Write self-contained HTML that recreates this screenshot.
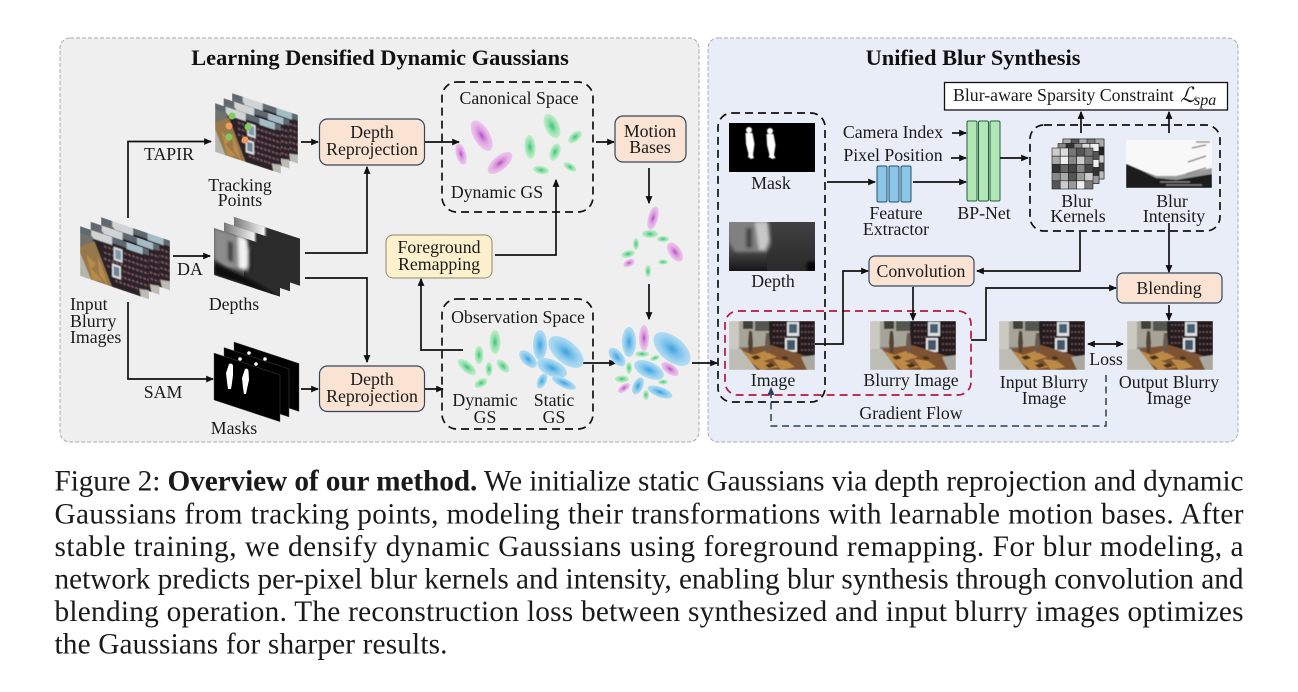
<!DOCTYPE html>
<html><head><meta charset="utf-8"><style>
html,body{margin:0;padding:0;background:#fff;width:1298px;height:692px;overflow:hidden}
svg{position:absolute;left:0;top:0}
text{font-family:"Liberation Serif",serif;font-size:17.8px;fill:#1a1a1a;text-anchor:middle}
.t{font-size:22.4px;font-weight:bold;fill:#111}
.c{font-size:29.3px;text-anchor:start;fill:#1a1a1a}
.l{fill:none;stroke:#111;stroke-width:1.7}
.d{fill:none;stroke:#111;stroke-width:1.7;stroke-dasharray:8 5}
.b{fill:#fbe3d3;stroke:#34465e;stroke-width:1.2}
</style></head><body>
<svg width="1298" height="692" viewBox="0 0 1298 692" xmlns="http://www.w3.org/2000/svg">
<defs>
<marker id="a" markerWidth="8" markerHeight="8" refX="6" refY="3" orient="auto-start-reverse" markerUnits="userSpaceOnUse" viewBox="0 0 7 6"><path d="M0 0L7 3L0 6z" fill="#111"/></marker>
<marker id="n" markerWidth="8" markerHeight="8" refX="6" refY="3" orient="auto" markerUnits="userSpaceOnUse" viewBox="0 0 7 6"><path d="M0 0L7 3L0 6z" fill="#2c3e5c"/></marker>
<radialGradient id="gp"><stop offset="0" stop-color="#b050c0"/><stop offset=".35" stop-color="#d890dc"/><stop offset=".7" stop-color="#e6b4e6"/><stop offset="1" stop-color="#ebc6eb"/></radialGradient>
<radialGradient id="gg"><stop offset="0" stop-color="#40c080"/><stop offset=".4" stop-color="#80dca0"/><stop offset=".75" stop-color="#aee8bc"/><stop offset="1" stop-color="#c0ecca"/></radialGradient>
<radialGradient id="gb"><stop offset="0" stop-color="#3da0e0"/><stop offset=".4" stop-color="#78c0ea"/><stop offset=".75" stop-color="#a0d4f0"/><stop offset="1" stop-color="#b0dcf2"/></radialGradient>
<linearGradient id="dg" x1="0" y1="0" x2="0" y2="1"><stop offset="0" stop-color="#8a8a8a"/><stop offset=".6" stop-color="#454545"/><stop offset="1" stop-color="#161616"/></linearGradient>
<linearGradient id="band" x1="0" y1="0" x2="1" y2="0"><stop offset="0" stop-color="#777"/><stop offset=".45" stop-color="#f2f2f2"/><stop offset=".5" stop-color="#2c2c2c"/><stop offset="1" stop-color="#2c2c2c"/></linearGradient>
<filter id="bl" x="-20%" y="-20%" width="140%" height="140%"><feGaussianBlur stdDeviation=".6"/></filter>
<filter id="bl2" x="-30%" y="-30%" width="160%" height="160%"><feGaussianBlur stdDeviation="1.500"/></filter>
<clipPath id="cp"><rect width="86" height="49"/></clipPath>
<clipPath id="cp2"><rect width="66" height="47"/></clipPath>
<symbol id="photo" viewBox="0 0 86 49" preserveAspectRatio="none"><g clip-path="url(#cp)"><g filter="url(#bl)">
<rect width="86" height="49" fill="#7f7e78"/>
<rect width="42" height="26" fill="#a6a498"/>
<rect x="0" width="10" height="30" fill="#cbc9c0"/>
<rect x="14" y="0" width="10" height="8" fill="#3f4039"/>
<rect x="26" y="0" width="16" height="10" fill="#54574f"/>
<rect x="40" y="0" width="46" height="37" fill="#231a1e"/>
<path d="M44 4h14M44 10h14M44 16h14M44 22h14M44 28h16M72 5h14M72 11h14M72 17h14M72 23h14M72 29h14" stroke="#6a4855" stroke-width="1.800" stroke-dasharray="2 1.500"/>
<rect x="58" y="1" width="12" height="14" fill="#dfe1e3"/><rect x="60" y="3" width="8" height="9" fill="#4a5f72"/>
<rect x="56" y="17" width="12" height="14" fill="#e2e2e4"/><rect x="58" y="19" width="8" height="10" fill="#43586a"/>
<path d="M10 28L42 24L86 38L86 49L14 49Z" fill="#7e5230"/>
<path d="M14 30l10 4 12-4 12 6-14 4 16 6-18 3-10-8zM44 38l14 2 8 6-14 3z" fill="#bd8a44"/>
<path d="M22 36l6-2 4 3-6 2zM36 44l6-2 4 3-6 2zM52 36l5-1 3 3-5 1z" fill="#4a3018"/>
<path d="M0 28L12 28L28 49L0 49Z" fill="#bdbdb5"/>
<path d="M20 10l3 0 1 12-1 10-3 0-1-10z" fill="#4f4236"/><path d="M37 12l3 0 1 10-1 10-3 0-1-10z" fill="#6a5b50"/>
<path d="M72 36L86 34L86 49L78 49Z" fill="#a9a9a1"/>
</g></g></symbol>
<symbol id="photo2" viewBox="0 0 86 49" preserveAspectRatio="none"><g clip-path="url(#cp)"><g filter="url(#bl)">
<rect width="86" height="49" fill="#2a2025"/>
<path d="M0 0h86v6H0z" fill="#5f6870"/><path d="M14 0h26v8H14z" fill="#d0d4d4"/><path d="M58 0h20v7H58z" fill="#a4bcc6"/>
<path d="M30 12h56M30 18h56M30 24h56M34 30h52M40 36h46M44 42h42" stroke="#7a5662" stroke-width="2" stroke-dasharray="3 2"/>
<rect x="42" y="9" width="11" height="13" fill="#d6dde2"/><rect x="44" y="11" width="7" height="9" fill="#7f98ac"/>
<rect x="40" y="26" width="11" height="13" fill="#dfe1e3"/><rect x="42" y="28" width="7" height="9" fill="#6d8498"/>
<path d="M0 6h16v14H0z" fill="#6f706c"/>
<path d="M0 20L18 10L40 49H0Z" fill="#97784c"/>
<path d="M8 26l12 6-6 6 14 8-12 3zM22 24l8 14 4 11-10-8z" fill="#b98b4a"/>
<path d="M0 26L14 49H0z" fill="#b5b5ac"/>
<path d="M74 42L86 40V49H76z" fill="#bcbcb4"/>
</g></g></symbol>
<symbol id="depth" viewBox="0 0 86 49" preserveAspectRatio="none"><g clip-path="url(#cp)">
<rect width="86" height="49" fill="url(#dg)"/>
<rect x="38" width="48" height="49" fill="#2e2e2e" opacity=".8"/>
<g filter="url(#bl2)"><path d="M0 0h40l2 22-4 8H6L0 20z" fill="#808080"/><path d="M26 0h12l2 18-4 10h-6z" fill="#c8c8c8"/><rect x="17" y="6" width="6" height="20" fill="#444"/><rect x="78" y="40" width="10" height="10" fill="#000"/></g>
</g></symbol>
<symbol id="mask" viewBox="0 0 86 49" preserveAspectRatio="none"><rect width="86" height="49" fill="#000"/>
<g fill="#fff" filter="url(#bl)"><circle cx="20" cy="7" r="3"/><path d="M16.500 10h7l2 11-1.500 11 1 3-3 1-3-2 .5-3-2.500-10z"/><circle cx="41" cy="8" r="3"/><path d="M37.500 11h7l2 11-1.500 10 1.500 3-3 1-4-2 1-2-2.500-10z"/></g>
</symbol>
<symbol id="dstack" viewBox="0 0 66 47" preserveAspectRatio="none"><g clip-path="url(#cp2)"><rect width="66" height="47" fill="#2c2c2c"/>
<rect width="30" height="47" fill="#555"/>
<g filter="url(#bl2)"><path d="M0 0h32l2 24-6 8-16 4-12-6z" fill="#8c8c8c"/><path d="M24 0h9l3 22-4 10h-7z" fill="#f2f2f2"/><rect x="14" y="8" width="5" height="20" fill="#3c3c3c"/><rect x="34" y="10" width="3" height="22" fill="#1c1c1c"/></g>
<path d="M0 34L30 38L66 47H0Z" fill="#0a0a0a" filter="url(#bl2)"/></g></symbol>
</defs>

<!-- panels -->
<rect x="60" y="38" width="639" height="404" rx="10" fill="#efefef" stroke="#aaa" stroke-width="1" stroke-dasharray="4 2"/>
<rect x="708" y="38" width="530" height="404" rx="10" fill="#e8edf8" stroke="#aab" stroke-width="1" stroke-dasharray="4 2"/>
<text class="t" x="380" y="65">Learning Densified Dynamic Gaussians</text>
<text class="t" x="973" y="65">Unified Blur Synthesis</text>

<!-- input stack -->
<g>
<use href="#photo2" width="69" height="50" transform="matrix(1 .34 0 1 101 217)"/>
<use href="#photo2" width="69" height="50" transform="matrix(1 .34 0 1 90.500 221.500)"/>
<use href="#photo2" width="69" height="50" transform="matrix(1 .34 0 1 80 226)"/>
</g>
<!-- tracking stack -->
<g>
<use href="#photo2" width="66" height="49" transform="matrix(1 .33 0 1 232 93)"/>
<use href="#photo2" width="66" height="49" transform="matrix(1 .33 0 1 223.500 98)"/>
<use href="#photo2" width="66" height="49" transform="matrix(1 .33 0 1 215 103)"/>
<g stroke="none"><circle cx="232" cy="116" r="3.500" fill="#7ecb5c"/><circle cx="229" cy="126" r="3.500" fill="#f09a5c"/><circle cx="229" cy="137" r="3.500" fill="#7ecb5c"/><circle cx="248" cy="127" r="3.500" fill="#7ecb5c"/><circle cx="245" cy="140" r="3.500" fill="#f09a5c"/></g>
</g>
<!-- depth stack -->
<g>
<g transform="matrix(1 .33 0 1 234 217)"><rect width="66" height="47" fill="#2c2c2c"/><rect width="66" height="12" fill="url(#band)"/></g>
<g transform="matrix(1 .33 0 1 224 222.500)"><rect width="66" height="47" fill="#2c2c2c"/><rect width="66" height="12" fill="url(#band)"/></g>
<use href="#dstack" width="66" height="47" transform="matrix(1 .33 0 1 214 228)"/>
</g>
<!-- mask stack -->
<g>
<g transform="matrix(1 .33 0 1 234 342)"><rect width="65" height="48" fill="#000" stroke="#555" stroke-width=".4"/></g>
<g transform="matrix(1 .33 0 1 224 347.500)"><rect width="65" height="48" fill="#000" stroke="#555" stroke-width=".4"/></g>
<g transform="matrix(1 .33 0 1 214 353)"><rect width="66" height="47" fill="#000" stroke="#555" stroke-width=".4"/></g>
<g fill="#fff"><circle cx="249" cy="353" r="1.800"/><circle cx="265" cy="359" r="1.800"/><circle cx="240" cy="359" r="1.800"/><circle cx="256" cy="364" r="1.800"/>
<path d="M229 364c2-1 4 0 4 2v9l-1 8-1 6h-3l-1-7-1-9z"/><path d="M245 369c2-1 3 0 3.500 2l.5 9-2 9-1 5h-2l-1-6-1-10z"/></g>
</g>

<!-- left connectors -->
<path class="l" marker-end="url(#a)" d="M128 218V141.500H211"/>
<path class="l" marker-end="url(#a)" d="M173 256H210"/>
<path class="l" marker-end="url(#a)" d="M128 302V379H213"/>
<path class="l" marker-end="url(#a)" d="M301 142H318"/>
<path class="l" marker-end="url(#a)" d="M305 253H367V167"/>
<path class="l" marker-end="url(#a)" d="M305 278H367V362"/>
<path class="l" marker-end="url(#a)" d="M301 389H318"/>
<path class="l" marker-end="url(#a)" d="M424 142H459"/>
<path class="l" marker-end="url(#a)" d="M424 389H443"/>
<path class="l" marker-end="url(#a)" d="M495 255H556V180"/>
<path class="l" marker-end="url(#a)" d="M463 350H421V279"/>
<path class="l" marker-end="url(#a)" d="M596 142H614"/>
<path class="l" marker-end="url(#a)" d="M649 168V203"/>
<path class="l" marker-end="url(#a)" d="M649 284V319"/>
<path class="l" marker-end="url(#a)" d="M581 363H616"/>
<path class="l" marker-end="url(#a)" d="M692 363H717"/>

<!-- dashed groups -->
<rect class="d" x="442" y="82" width="151" height="130" rx="15"/>
<rect class="d" x="442" y="299" width="151" height="130" rx="15"/>

<!-- boxes -->
<rect class="b" x="319.500" y="119" width="105" height="46" rx="8"/>
<rect class="b" x="319.500" y="366" width="105" height="45.500" rx="8"/>
<rect class="b" x="615" y="116" width="71" height="46" rx="8"/>
<rect x="386" y="235" width="106" height="43" rx="7" fill="#fdf1cd" stroke="#8a8a70" stroke-width="1"/>

<!-- gaussians: canonical -->
<g>
<ellipse cx="481.700" cy="135.700" rx="8" ry="17" transform="rotate(-30 481.700 135.700)" fill="url(#gp)"/>
<ellipse cx="461" cy="154" rx="5" ry="11" transform="rotate(-15 461 154)" fill="url(#gp)"/>
<ellipse cx="500" cy="163" rx="15" ry="7" transform="rotate(-40 500 163)" fill="url(#gp)"/>
<ellipse cx="552" cy="126" rx="7" ry="13" transform="rotate(-25 552 126)" fill="url(#gg)"/>
<ellipse cx="530" cy="147" rx="5.500" ry="12" transform="rotate(-5 530 147)" fill="url(#gg)"/>
<ellipse cx="575" cy="137" rx="8" ry="4.500" transform="rotate(-40 575 137)" fill="url(#gg)"/>
<ellipse cx="555" cy="152" rx="5" ry="9" transform="rotate(20 555 152)" fill="url(#gg)"/>
<ellipse cx="541" cy="170" rx="8" ry="4" transform="rotate(10 541 170)" fill="url(#gg)"/>
<ellipse cx="570" cy="167" rx="7" ry="3.500" transform="rotate(30 570 167)" fill="url(#gg)"/>
</g>
<!-- gaussians: middle -->
<g>
<ellipse cx="653" cy="218" rx="5" ry="12" transform="rotate(15 653 218)" fill="url(#gp)"/>
<ellipse cx="675" cy="252" rx="6" ry="11" transform="rotate(-35 675 252)" fill="url(#gp)"/>
<ellipse cx="629" cy="263" rx="6" ry="3.500" transform="rotate(-25 629 263)" fill="url(#gp)"/>
<ellipse cx="650" cy="234" rx="8" ry="4" fill="url(#gg)"/>
<ellipse cx="663" cy="239" rx="6" ry="3" fill="url(#gg)"/>
<ellipse cx="636" cy="244" rx="3" ry="6" fill="url(#gg)"/>
<ellipse cx="628" cy="254" rx="7" ry="3.500" transform="rotate(-15 628 254)" fill="url(#gg)"/>
<ellipse cx="663" cy="262" rx="5" ry="2.500" fill="url(#gg)"/>
<ellipse cx="648" cy="271" rx="3" ry="6" fill="url(#gg)"/>
</g>
<!-- gaussians: observation -->
<g>
<ellipse cx="495" cy="342" rx="5.500" ry="12" fill="url(#gg)"/>
<ellipse cx="479" cy="355" rx="4.500" ry="9" fill="url(#gg)"/>
<ellipse cx="467" cy="367" rx="11" ry="5" transform="rotate(40 467 367)" fill="url(#gg)"/>
<ellipse cx="503" cy="366" rx="8" ry="4.500" transform="rotate(45 503 366)" fill="url(#gg)"/>
<ellipse cx="489" cy="369" rx="3.500" ry="7" fill="url(#gg)"/>
<ellipse cx="481" cy="383" rx="7" ry="4" transform="rotate(-30 481 383)" fill="url(#gg)"/>
<ellipse cx="540" cy="345" rx="7" ry="15" fill="url(#gb)"/>
<ellipse cx="566" cy="352" rx="21" ry="11" transform="rotate(40 566 352)" fill="url(#gb)"/>
<ellipse cx="528" cy="359" rx="11" ry="6" transform="rotate(45 528 359)" fill="url(#gb)"/>
<ellipse cx="552" cy="368" rx="16" ry="8" transform="rotate(25 552 368)" fill="url(#gb)"/>
<ellipse cx="542" cy="381" rx="4.500" ry="8" transform="rotate(25 542 381)" fill="url(#gb)"/>
<ellipse cx="564" cy="383" rx="13" ry="4.500" transform="rotate(25 564 383)" fill="url(#gb)"/>
</g>
<!-- gaussians: combined -->
<g>
<ellipse cx="629" cy="342" rx="7" ry="15" fill="url(#gb)"/>
<ellipse cx="672" cy="349" rx="22" ry="12" transform="rotate(40 672 349)" fill="url(#gb)"/>
<ellipse cx="617" cy="357" rx="11" ry="6" transform="rotate(50 617 357)" fill="url(#gb)"/>
<ellipse cx="649" cy="370" rx="16" ry="8" transform="rotate(25 649 370)" fill="url(#gb)"/>
<ellipse cx="638" cy="386" rx="5" ry="9" transform="rotate(25 638 386)" fill="url(#gb)"/>
<ellipse cx="660" cy="392" rx="13" ry="5" transform="rotate(20 660 392)" fill="url(#gb)"/>
<ellipse cx="644" cy="338" rx="5" ry="13" fill="url(#gp)"/>
<ellipse cx="670" cy="369" rx="10" ry="5" transform="rotate(35 670 369)" fill="url(#gp)"/>
<ellipse cx="624" cy="388" rx="7" ry="3.500" transform="rotate(-35 624 388)" fill="url(#gp)"/>
<ellipse cx="642" cy="354" rx="7" ry="3" fill="url(#gg)"/>
<ellipse cx="655" cy="358" rx="5" ry="2.500" transform="rotate(-20 655 358)" fill="url(#gg)"/>
<ellipse cx="629" cy="368" rx="3" ry="6" fill="url(#gg)"/>
<ellipse cx="622" cy="379" rx="7" ry="3.500" fill="url(#gg)"/>
<ellipse cx="663" cy="382" rx="5" ry="2.500" fill="url(#gg)"/>
<ellipse cx="646" cy="395" rx="3" ry="5" fill="url(#gg)"/>
</g>

<!-- left labels -->
<text x="169" y="160">TAPIR</text>
<text x="190" y="275">DA</text>
<text x="163" y="398">SAM</text>
<text x="240" y="191">Tracking</text><text x="240" y="206">Points</text>
<text x="234" y="310">Depths</text>
<text x="234" y="434">Masks</text>
<text x="70" y="310" style="text-anchor:start">Input</text><text x="70" y="327" style="text-anchor:start">Blurry</text><text x="70" y="343" style="text-anchor:start">Images</text>
<text x="372" y="138">Depth</text><text x="372" y="155">Reprojection</text>
<text x="372" y="385">Depth</text><text x="372" y="402">Reprojection</text>
<text x="650" y="137">Motion</text><text x="650" y="153">Bases</text>
<text x="439" y="253">Foreground</text><text x="439" y="270">Remapping</text>
<text x="519" y="104">Canonical Space</text>
<text x="497" y="198">Dynamic GS</text>
<text x="518" y="323">Observation Space</text>
<text x="485" y="406">Dynamic</text><text x="485" y="423">GS</text>
<text x="554" y="406">Static</text><text x="554" y="423">GS</text>

<!-- right images -->
<use href="#mask" x="729" y="123" width="86" height="49"/>
<use href="#depth" x="729" y="222" width="86" height="49"/>
<use href="#photo" x="729" y="321" width="86" height="49"/>
<use href="#photo" x="870" y="321" width="86" height="49"/>
<use href="#photo" x="999" y="321" width="86" height="49"/>
<use href="#photo" x="1127" y="321" width="86" height="49"/>

<!-- blur intensity -->
<svg x="1126" y="140" width="86" height="48" viewBox="0 0 86 48">
<rect width="86" height="48" fill="#f8f8f8"/>
<g filter="url(#bl)"><path d="M0 24L14 30L30 36L50 38L86 34V48H0Z" fill="#1c1c1c"/><path d="M14 30L30 36L50 36L86 28V34L50 40L30 38Z" fill="#999"/>
<path d="M34 42h30M40 45h36M60 34l20-6M62 22l18-6M66 8l14-3M70 2h14" stroke="#888" stroke-width="1.300" fill="none"/></g>
</svg>

<!-- kernels -->
<g stroke="#222" stroke-width=".6">
<g><rect x="1063" y="139" width="41" height="40" fill="#999"/><path d="M1063 139h41v8h-41z" fill="#aaa"/><rect x="1071" y="139" width="8" height="8" fill="#555"/><rect x="1087" y="139" width="8" height="8" fill="#777"/><rect x="1096" y="147" width="8" height="8" fill="#222"/><rect x="1096" y="155" width="8" height="8" fill="#ccc"/><rect x="1096" y="163" width="8" height="8" fill="#444"/><rect x="1096" y="171" width="8" height="8" fill="#bbb"/></g>
<g><rect x="1058" y="143.500" width="41" height="40" fill="#888"/><rect x="1066" y="143.500" width="8" height="8" fill="#333"/><rect x="1082" y="143.500" width="8" height="8" fill="#ddd"/><rect x="1090" y="143.500" width="9" height="8" fill="#eee"/><rect x="1090" y="151.500" width="9" height="8" fill="#555"/><rect x="1090" y="159.500" width="9" height="8" fill="#eee"/><rect x="1090" y="167.500" width="9" height="8" fill="#333"/><rect x="1090" y="175.500" width="9" height="8" fill="#999"/></g>
<g>
<rect x="1052" y="148" width="8.200" height="8.200" fill="#ccc"/><rect x="1060.200" y="148" width="8.200" height="8.200" fill="#ddd"/><rect x="1068.400" y="148" width="8.200" height="8.200" fill="#777"/><rect x="1076.600" y="148" width="8.200" height="8.200" fill="#555"/><rect x="1084.800" y="148" width="8.200" height="8.200" fill="#777"/>
<rect x="1052" y="156.200" width="8.200" height="8.200" fill="#aaa"/><rect x="1060.200" y="156.200" width="8.200" height="8.200" fill="#eee"/><rect x="1068.400" y="156.200" width="8.200" height="8.200" fill="#888"/><rect x="1076.600" y="156.200" width="8.200" height="8.200" fill="#ccc"/><rect x="1084.800" y="156.200" width="8.200" height="8.200" fill="#777"/>
<rect x="1052" y="164.400" width="8.200" height="8.200" fill="#333"/><rect x="1060.200" y="164.400" width="8.200" height="8.200" fill="#666"/><rect x="1068.400" y="164.400" width="8.200" height="8.200" fill="#444"/><rect x="1076.600" y="164.400" width="8.200" height="8.200" fill="#888"/><rect x="1084.800" y="164.400" width="8.200" height="8.200" fill="#444"/>
<rect x="1052" y="172.600" width="8.200" height="8.200" fill="#888"/><rect x="1060.200" y="172.600" width="8.200" height="8.200" fill="#aaa"/><rect x="1068.400" y="172.600" width="8.200" height="8.200" fill="#555"/><rect x="1076.600" y="172.600" width="8.200" height="8.200" fill="#999"/><rect x="1084.800" y="172.600" width="8.200" height="8.200" fill="#ccc"/>
<rect x="1052" y="180.800" width="8.200" height="8.200" fill="#555"/><rect x="1060.200" y="180.800" width="8.200" height="8.200" fill="#ccc"/><rect x="1068.400" y="180.800" width="8.200" height="8.200" fill="#999"/><rect x="1076.600" y="180.800" width="8.200" height="8.200" fill="#eee"/><rect x="1084.800" y="180.800" width="8.200" height="8.200" fill="#777"/>
</g>
</g>

<!-- right dashed groups -->
<rect class="d" x="718" y="113" width="107" height="289" rx="14"/>
<rect x="725" y="311" width="246" height="84" rx="13" fill="none" stroke="#b5173f" stroke-width="1.700" stroke-dasharray="8 5"/>
<rect class="d" x="1030" y="125" width="190" height="106" rx="14"/>

<!-- feature & bp-net -->
<g fill="#8cc6e6" stroke="#24506e" stroke-width="1"><rect x="877" y="166" width="10" height="36" rx="1.500"/><rect x="889" y="166" width="10" height="36" rx="1.500"/><rect x="901" y="166" width="10" height="36" rx="1.500"/></g>
<g fill="#b2e6b6" stroke="#24603a" stroke-width="1"><rect x="967" y="121" width="10" height="80" rx="1.500"/><rect x="978.500" y="121" width="10" height="80" rx="1.500"/><rect x="990" y="121" width="10" height="80" rx="1.500"/></g>

<!-- right boxes -->
<rect x="944.500" y="82.500" width="283" height="27.500" fill="#fff" stroke="#111" stroke-width="1.300"/>
<rect class="b" x="869" y="256" width="105" height="30" rx="6"/>
<rect class="b" x="1117" y="273" width="105" height="30" rx="6"/>

<!-- right connectors -->
<path class="l" marker-end="url(#a)" d="M827 182H875"/>
<path class="l" marker-end="url(#a)" d="M913 182H966"/>
<path class="l" marker-end="url(#a)" d="M952 133H966"/>
<path class="l" marker-end="url(#a)" d="M951 158H966"/>
<path class="l" marker-end="url(#a)" d="M1000 158H1028"/>
<path class="l" marker-end="url(#a)" d="M1081 133V112"/>
<path class="l" marker-end="url(#a)" d="M1169 133V112"/>
<path class="l" marker-end="url(#a)" d="M815 344H843V271H868"/>
<path class="l" marker-end="url(#a)" d="M913 287V320"/>
<path class="l" marker-end="url(#a)" d="M1080 232V271H977"/>
<path class="l" marker-end="url(#a)" d="M1169 223V272"/>
<path class="l" marker-end="url(#a)" d="M1169 305V320"/>
<path class="l" marker-end="url(#a)" d="M971 340H986V288H1116"/>
<path class="l" marker-start="url(#a)" marker-end="url(#a)" d="M1088 344H1123"/>
<path fill="none" stroke="#2c3e5c" stroke-width="1.500" stroke-dasharray="7 4.500" marker-end="url(#n)" d="M1106 375V426H771V388"/>

<!-- right labels -->
<text x="953" y="101" style="text-anchor:start">Blur-aware Sparsity Constraint</text>
<text x="1180" y="102" style="font-style:italic;font-size:21px;text-anchor:start">ℒ</text>
<text x="1194" y="105" style="font-style:italic;font-size:16px;text-anchor:start">spa</text>
<text x="771" y="189">Mask</text>
<text x="773" y="287">Depth</text>
<text x="773" y="386">Image</text>
<text x="911" y="386">Blurry Image</text>
<text x="893" y="138">Camera Index</text>
<text x="893" y="161">Pixel Position</text>
<text x="896" y="219">Feature</text><text x="896" y="235">Extractor</text>
<text x="984" y="219">BP-Net</text>
<text x="1077" y="207">Blur</text><text x="1078" y="222">Kernels</text>
<text x="1172" y="207">Blur</text><text x="1174" y="222">Intensity</text>
<text x="921" y="277">Convolution</text>
<text x="1169" y="294">Blending</text>
<text x="1106" y="365">Loss</text>
<text x="1044" y="388">Input Blurry</text><text x="1044" y="404">Image</text>
<text x="1169" y="388">Output Blurry</text><text x="1169" y="404">Image</text>
<text x="911" y="419">Gradient Flow</text>

<!-- caption -->
<text class="c" x="54.500" y="490.500" textLength="1189" lengthAdjust="spacing">Figure 2: <tspan font-weight="bold">Overview of our method.</tspan> We initialize static Gaussians via depth reprojection and dynamic</text>
<text class="c" x="54.500" y="523.500" textLength="1189" lengthAdjust="spacing">Gaussians from tracking points, modeling their transformations with learnable motion bases. After</text>
<text class="c" x="54.500" y="556" textLength="1189" lengthAdjust="spacing">stable training, we densify dynamic Gaussians using foreground remapping. For blur modeling, a</text>
<text class="c" x="54.500" y="588.500" textLength="1189" lengthAdjust="spacing">network predicts per-pixel blur kernels and intensity, enabling blur synthesis through convolution and</text>
<text class="c" x="54.500" y="621" textLength="1189" lengthAdjust="spacing">blending operation. The reconstruction loss between synthesized and input blurry images optimizes</text>
<text class="c" x="54.500" y="653.500" textLength="393" lengthAdjust="spacing">the Gaussians for sharper results.</text>
</svg>
</body></html>
